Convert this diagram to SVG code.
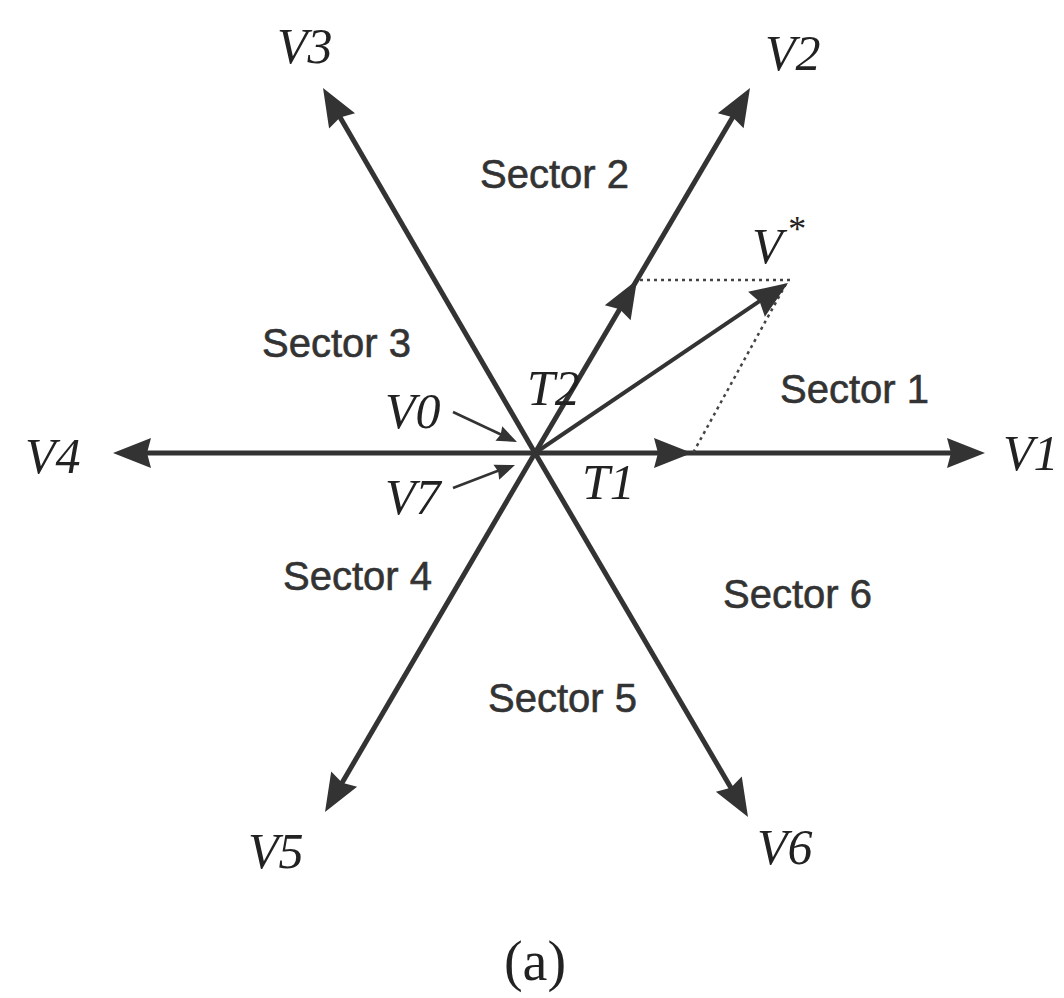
<svg xmlns="http://www.w3.org/2000/svg" width="1064" height="998" viewBox="0 0 1064 998">
<defs>
<style>
.ax{stroke:#333;stroke-width:5;fill:none;stroke-linecap:butt}
.vs{stroke:#333;stroke-width:4;fill:none}
.dot{stroke:#444;stroke-width:2.5;fill:none;stroke-dasharray:3 4}
.thin{stroke:#333;stroke-width:2.5;fill:none}
.ah{fill:#333}
.lbl{font-family:"Liberation Serif","Times New Roman",serif;font-style:italic;font-size:50px;fill:#222}
.sec{font-family:"Liberation Sans",Arial,sans-serif;font-size:40px;fill:#333;stroke:#333;stroke-width:0.6}
.cap{font-family:"Liberation Serif","Times New Roman",serif;font-size:56px;fill:#222}
</style>
<path id="ah" class="ah" d="M0,0 L-38,-15 L-34,0 L-38,15 Z"/>
<path id="ahs" class="ah" d="M0,0 L-20,-8 L-18,0 L-20,8 Z"/>
</defs>
<rect width="1064" height="998" fill="#fff"/>
<g id="connectors">
<line class="ax" x1="535" y1="453" x2="975" y2="453"/>
<line class="ax" x1="535" y1="453" x2="123" y2="453"/>
<line class="ax" x1="535" y1="453" x2="744.9" y2="96.6"/>
<line class="ax" x1="535" y1="453" x2="328" y2="96.6"/>
<line class="ax" x1="535" y1="453" x2="330" y2="803.4"/>
<line class="ax" x1="535" y1="453" x2="743" y2="808.4"/>
<line class="vs" x1="535" y1="453" x2="776" y2="290"/>
<line class="dot" x1="640" y1="280" x2="790" y2="280"/>
<line class="dot" x1="786" y1="284" x2="693" y2="453"/>
<line class="thin" x1="453" y1="412" x2="502" y2="435"/>
<line class="thin" x1="453" y1="488" x2="500" y2="470"/>
<use href="#ah" transform="translate(985,453)"/>
<use href="#ah" transform="translate(113,453) rotate(180)"/>
<use href="#ah" transform="translate(750,88) rotate(-59.5)"/>
<use href="#ah" transform="translate(323,88) rotate(-120.1)"/>
<use href="#ah" transform="translate(325,812) rotate(120.3)"/>
<use href="#ah" transform="translate(748,817) rotate(59.7)"/>
<use href="#ah" transform="translate(637,280) rotate(-59.5)"/>
<use href="#ah" transform="translate(692,453)"/>
<use href="#ah" transform="translate(788,283) rotate(-34)"/>
<use href="#ahs" transform="translate(517,442) rotate(25)"/>
<use href="#ahs" transform="translate(515,465) rotate(-21)"/>
</g>
<g id="labels">
<text class="lbl" x="277" y="63">V3</text>
<text class="lbl" x="765" y="70">V2</text>
<text class="lbl" x="1003" y="470">V1</text>
<text class="lbl" x="25" y="473">V4</text>
<text class="lbl" x="248" y="868">V5</text>
<text class="lbl" x="757" y="864">V6</text>
<text class="lbl" x="385" y="428">V0</text>
<text class="lbl" x="385" y="514">V7</text>
<text class="lbl" x="527" y="405">T2</text>
<text class="lbl" x="582" y="499">T1</text>
<text class="lbl" x="752" y="263">V<tspan font-size="36" dy="-22" dx="4">*</tspan></text>
</g>
<g id="sectors">
<text class="sec" x="480" y="188">Sector 2</text>
<text class="sec" x="262" y="357">Sector 3</text>
<text class="sec" x="780" y="403">Sector 1</text>
<text class="sec" x="283" y="590">Sector 4</text>
<text class="sec" x="723" y="608">Sector 6</text>
<text class="sec" x="488" y="712">Sector 5</text>
</g>
<text class="cap" x="535" y="980" text-anchor="middle">(a)</text>
</svg>
